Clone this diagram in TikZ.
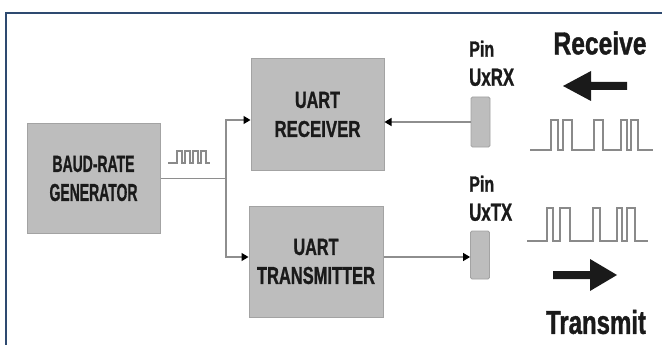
\documentclass[tikz,border=0pt]{standalone}
\usepackage{fontspec}
\setmainfont{Liberation Sans}[BoldFeatures={FakeBold=1.3}]
\usepackage{graphicx}
\usetikzlibrary{arrows.meta}
\definecolor{boxgray}{HTML}{BDBDBD}
\definecolor{boxedge}{HTML}{A3A3A3}
\definecolor{linegray}{HTML}{8E8E8E}
\definecolor{wavegray}{HTML}{8A8A8A}
\definecolor{framebl}{HTML}{2E4A70}
\definecolor{inkdark}{HTML}{1A1A1A}
\newcommand\fitlabel[3]{\resizebox{#1pt}{#2pt}{\bfseries #3}}
\begin{document}
\begin{tikzpicture}[x=1pt,y=-1pt,
  block/.style={draw=boxedge, fill=boxgray, line width=1pt, inner sep=0pt,
    align=center, text=inkdark, font=\fontsize{10}{29}\selectfont},
  pinbox/.style={draw=boxedge, fill=boxgray, line width=0.8pt, rounded corners=1.5pt,
    minimum width=19pt, minimum height=50pt, inner sep=0pt},
  pinlabel/.style={inner sep=0pt, align=left, anchor=north west, text=inkdark,
    font=\fontsize{10}{29}\selectfont},
  bigtext/.style={inner sep=0pt, text=inkdark},
  conn/.style={draw=linegray, line width=1.3pt},
  headtip/.style={-{Triangle[length=7pt,width=8pt,color=black,fill=black]}},
  wave/.style={draw=wavegray, line width=1.2pt, line join=miter}]
\useasboundingbox (0,0) rectangle (662,345);
\fill[white] (0,0) rectangle (662,345);
\draw[framebl, line width=2pt] (6,346) -- (6,13) -- (663,13);

% blocks
\node[block, minimum width=133pt, minimum height=109pt] (baud) at (93.5,178.5)
  {\fitlabel{82}{16}{BAUD-RATE}\\\fitlabel{88}{17}{GENERATOR}};
\node[block, minimum width=133pt, minimum height=111pt] (rx) at (317.5,114.5)
  {\fitlabel{45}{16}{UART}\\\fitlabel{86}{16}{RECEIVER}};
\node[block, minimum width=134pt, minimum height=111pt] (tx) at (316,261.5)
  {\fitlabel{45}{16}{UART}\\\fitlabel{118}{17}{TRANSMITTER}};

% pins
\node[pinbox] (rxpin) at (480.5,122) {};
\node[pinbox, minimum height=48pt] (txpin) at (480,255) {};
\node[pinlabel] (rxlab) at (469,40.5) {\fitlabel{25}{16}{Pin}\\\fitlabel{45}{17}{UxRX}};
\node[pinlabel] (txlab) at (469,175.5) {\fitlabel{25}{16}{Pin}\\\fitlabel{43}{17}{UxTX}};

% connectors
\coordinate (split) at (226,178.5);
\draw[conn] (baud.east) -- (split);
\draw[conn,headtip] (split) |- ([yshift=-5.5pt]rx.west);
\draw[conn,headtip] (split) |- ([yshift=4.5pt]tx.west);
\draw[conn,headtip] (rxpin.west) -- (rxpin.west -| rx.east);
\draw[conn,headtip] ([yshift=4.5pt]tx.east) -- ([yshift=4.5pt]tx.east -| txpin.west);

% clock waveform
\draw[wave] (168,163) -- (177,163) -- (177,151) -- (182,151) -- (182,163)
  -- (185,163) -- (185,151) -- (190,151) -- (190,163)
  -- (193,163) -- (193,151) -- (198,151) -- (198,163)
  -- (201,163) -- (201,151) -- (206,151) -- (206,163) -- (210,163);

% receive side
\node[bigtext] (recv) at (600,43) {\fitlabel{93}{23}{Receive}};
\fill[inkdark] (563,86) -- (591,71) -- (591,82) -- (627,82) -- (627,90)
  -- (591,90) -- (591,101) -- cycle;
\draw[wave] (530,150) -- (551,150) -- (551,120) -- (558,120) -- (558,150)
  -- (563,150) -- (563,120) -- (572,120) -- (572,150)
  -- (594,150) -- (594,120) -- (603,120) -- (603,150)
  -- (621,150) -- (621,120) -- (627,120) -- (627,150)
  -- (631,150) -- (631,120) -- (638,120) -- (638,150) -- (653,150);

% transmit side
\draw[wave] (527,241) -- (547,241) -- (547,208) -- (553,208) -- (553,241)
  -- (560,241) -- (560,208) -- (570,208) -- (570,241)
  -- (593,241) -- (593,208) -- (600,208) -- (600,241)
  -- (617,241) -- (617,208) -- (622,208) -- (622,241)
  -- (627,241) -- (627,208) -- (635,208) -- (635,241) -- (648,241);
\fill[inkdark] (617,275) -- (590,259) -- (590,271) -- (553,271) -- (553,279)
  -- (590,279) -- (590,291) -- cycle;
\node[bigtext] (trans) at (596,322) {\fitlabel{100}{24}{Transmit}};
\end{tikzpicture}
\end{document}
